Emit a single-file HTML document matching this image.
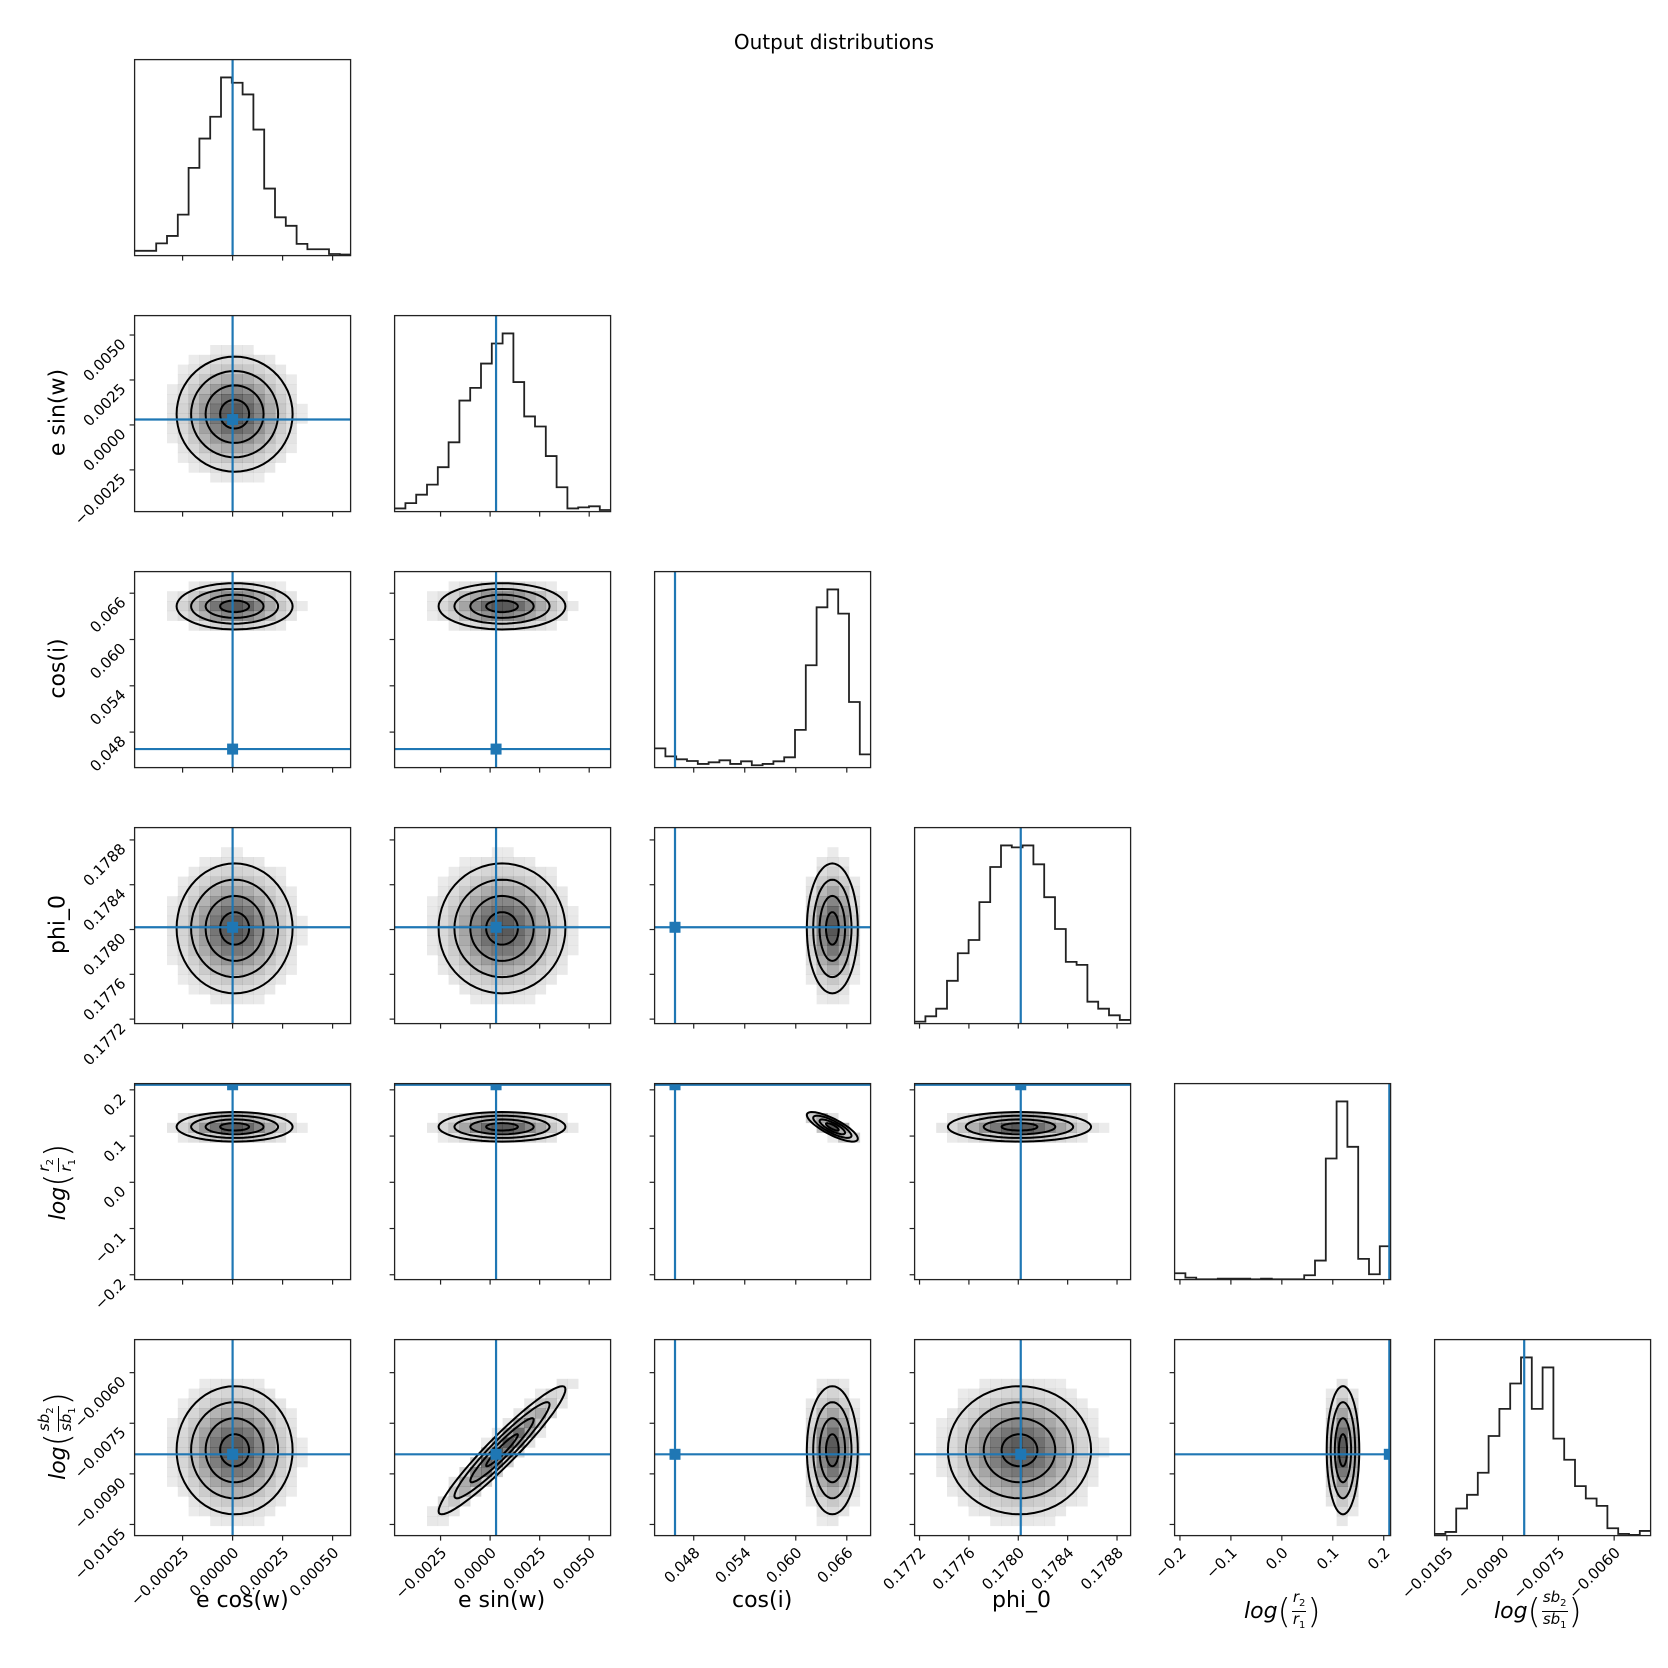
<!DOCTYPE html>
<html><head><meta charset="utf-8">
<style>
html,body{margin:0;padding:0;background:#fff;}
#wrap{position:relative;width:1668px;height:1668px;overflow:hidden;font-family:"DejaVu Sans","Liberation Sans",sans-serif;}
.lbl{position:absolute;font-size:22px;color:#000;white-space:nowrap;display:flex;align-items:center;}
.fr{display:inline-flex;flex-direction:column;align-items:center;font-size:15px;line-height:15px;margin:0 1px;}
.fr .n{border-bottom:1px solid #000;padding:0 1px;}
.par{font-size:34px;font-style:normal;font-weight:100;line-height:34px;}
</style></head>
<body>
<div id="wrap">
<svg id="svg" width="1668" height="1668" xmlns="http://www.w3.org/2000/svg">
<text x="834" y="49" text-anchor="middle" font-size="20" font-family="DejaVu Sans, sans-serif">Output distributions</text>
</svg>
<div class="lbl" style="left:196px;top:1588px;">e cos(w)</div>
<div class="lbl" style="left:458px;top:1588px;">e sin(w)</div>
<div class="lbl" style="left:732px;top:1588px;">cos(i)</div>
<div class="lbl" style="left:992px;top:1588px;">phi_0</div>
<div class="lbl" style="left:1244px;top:1590px;"><i>log</i><span class="par">(</span><span class="fr"><span class="n"><i>r</i><sub style="font-size:10px">2</sub></span><span><i>r</i><sub style="font-size:10px">1</sub></span></span><span class="par">)</span></div>
<div class="lbl" style="left:1494px;top:1590px;"><i>log</i><span class="par">(</span><span class="fr"><span class="n"><i>sb</i><sub style="font-size:10px">2</sub></span><span><i>sb</i><sub style="font-size:10px">1</sub></span></span><span class="par">)</span></div>
<div class="lbl" style="left:8px;top:400px;width:100px;justify-content:center;transform:rotate(-90deg);">e sin(w)</div>
<div class="lbl" style="left:8px;top:656px;width:100px;justify-content:center;transform:rotate(-90deg);">cos(i)</div>
<div class="lbl" style="left:8px;top:912px;width:100px;justify-content:center;transform:rotate(-90deg);">phi_0</div>
<div class="lbl" style="left:-12px;top:1158px;width:140px;height:48px;justify-content:center;transform:rotate(-90deg);"><i>log</i><span class="par">(</span><span class="fr"><span class="n"><i>r</i><sub style="font-size:10px">2</sub></span><span><i>r</i><sub style="font-size:10px">1</sub></span></span><span class="par">)</span></div>
<div class="lbl" style="left:-12px;top:1412px;width:140px;height:48px;justify-content:center;transform:rotate(-90deg);"><i>log</i><span class="par">(</span><span class="fr"><span class="n"><i>sb</i><sub style="font-size:10px">2</sub></span><span><i>sb</i><sub style="font-size:10px">1</sub></span></span><span class="par">)</span></div>
</div>
<script>
const paramNames = ["ecosw","esinw","cosi","phi0","logr","logsb"];
const lo = [-0.00049, -0.00482, 0.0434, 0.17716, -0.2105, -0.01083];
const hi = [0.00059, 0.00608, 0.0688, 0.17891, 0.2135, -0.00502];
const truth = [0.0, 0.0003, 0.0458, 0.17802, 0.211, -0.00842];
const means = [0.00001, 0.0006, 0.0643, 0.17801, 0.12, -0.0083];
const sds = [0.000145, 0.0016, 0.0015, 0.00029, 0.016, 0.00095];
const hist0 = [9,9,23,37,77,165,220,261,335,325,303,237,126,72,56,22,12,12,3,2];
const hist1 = [6,16,32,51,84,131,210,234,280,318,337,245,180,161,105,46,6,8,10,3];
const hist2 = [58,34,25,20,11,16,22,11,19,7,11,19,31,114,309,484,538,465,198,40];
const hist3 = [6,22,45,129,212,252,366,472,537,531,537,480,381,285,186,177,66,45,25,11];
const hist4 = [19,6,1,1,3,3,3,1,3,1,1,1,13,57,363,534,398,62,16,100];
const hist5 = [5,11,81,122,188,298,379,455,533,379,503,290,227,148,111,89,22,5,2,14];
const hists = [hist0,hist1,hist2,hist3,hist4,hist5];
const corrPairs = [[5,1,0.95],[4,2,-0.8]];
const contourLevels = [0.5,1,1.5,2];
const ticks0 = [-0.00025,0,0.00025,0.0005];
const tickLabels0 = ["\u22120.00025","0.00000","0.00025","0.00050"];
const ticks1 = [-0.0025,0,0.0025,0.005];
const tickLabels1 = ["\u22120.0025","0.0000","0.0025","0.0050"];
const ticks2 = [0.048,0.054,0.060,0.066];
const tickLabels2 = ["0.048","0.054","0.060","0.066"];
const ticks3 = [0.1772,0.1776,0.1780,0.1784,0.1788];
const tickLabels3 = ["0.1772","0.1776","0.1780","0.1784","0.1788"];
const ticks4 = [-0.2,-0.1,0,0.1,0.2];
const tickLabels4 = ["\u22120.2","\u22120.1","0.0","0.1","0.2"];
const ticks5 = [-0.0105,-0.009,-0.0075,-0.006];
const tickLabels5 = ["\u22120.0105","\u22120.0090","\u22120.0075","\u22120.0060"];
const ticks = [ticks0,ticks1,ticks2,ticks3,ticks4,ticks5];
const tickLabels = [tickLabels0,tickLabels1,tickLabels2,tickLabels3,tickLabels4,tickLabels5];

const L0=134.6, CW=260, PW=216, T0=59.6, RH=256, PH=196;
const NS="http://www.w3.org/2000/svg";
const svg=document.getElementById("svg");
const BLUE="#1f77b4";
function mk(tag, attrs, parent){const e=document.createElementNS(NS,tag);for(const k in attrs)e.setAttribute(k,attrs[k]);(parent||svg).appendChild(e);return e;}
function sx(j,v){return L0+CW*j+(v-lo[j])/(hi[j]-lo[j])*PW;}
function sy(i,v){return T0+RH*i+PH-(v-lo[i])/(hi[i]-lo[i])*PH;}
function corrOf(i,j){for(const c of corrPairs){if(c[0]===i&&c[1]===j)return c[2];}return 0;}

const defs=mk("defs",{});
for(let i=0;i<6;i++){
  for(let j=0;j<=i;j++){
    const px=L0+CW*j, py=T0+RH*i;
    const cp=mk("clipPath",{id:"c"+i+"_"+j},defs);
    mk("rect",{x:px,y:py,width:PW,height:PH},cp);
    const g=mk("g",{"clip-path":"url(#c"+i+"_"+j+")"});
    
    
    if(i===j){
      const h=hists[i], mx=Math.max(...h)*1.1, n=h.length;
      let d="";
      for(let b=0;b<n;b++){
        const x0=px+b*PW/n, x1=px+(b+1)*PW/n, y=py+PH-h[b]/mx*PH;
        d+=(b===0?"M"+x0+","+y:"L"+x0+","+y)+"L"+x1+","+y;
      }
      const hp=mk("path",{d:d,fill:"none",stroke:"#222",'stroke-width':1.8},g);
      
      
      const tl=mk("line",{x1:sx(j,truth[i]),x2:sx(j,truth[i]),y1:py,y2:py+PH,stroke:BLUE,'stroke-width':2.2},g);
      
      
    } else {
      const rho=corrOf(i,j), nb=20, cw=PW/nb, ch=PH/nb;
      for(let a=0;a<nb;a++)for(let b=0;b<nb;b++){
        const vx=lo[j]+(a+0.5)*(hi[j]-lo[j])/nb, vy=lo[i]+(b+0.5)*(hi[i]-lo[i])/nb;
        const zx=(vx-means[j])/sds[j], zy=(vy-means[i])/sds[i];
        const q=(zx*zx-2*rho*zx*zy+zy*zy)/(1-rho*rho);
        const dens=Math.exp(-0.5*q);
        if(dens<0.06)continue;
        const c=mk("rect",{x:px+a*cw,y:py+PH-(b+1)*ch,width:cw+0.3,height:ch+0.3,fill:"#000",'fill-opacity':(0.04+dens*0.62).toFixed(3)},g);
        
        
      }
      for(const k of contourLevels){
        let d="";
        for(let t=0;t<=60;t++){
          const th=t/60*2*Math.PI;
          const ux=Math.cos(th), uy=rho*Math.cos(th)+Math.sqrt(1-rho*rho)*Math.sin(th);
          const X=sx(j,means[j]+k*sds[j]*ux), Y=sy(i,means[i]+k*sds[i]*uy);
          d+=(t===0?"M":"L")+X.toFixed(1)+","+Y.toFixed(1);
        }
        const cpth=mk("path",{d:d+"Z",fill:"none",stroke:"#000",'stroke-width':2},g);
        
        
      }
      const vl=mk("line",{x1:sx(j,truth[j]),x2:sx(j,truth[j]),y1:py,y2:py+PH,stroke:BLUE,'stroke-width':2.2},g);
      
      
      const hl=mk("line",{x1:px,x2:px+PW,y1:sy(i,truth[i]),y2:sy(i,truth[i]),stroke:BLUE,'stroke-width':2.2},g);
      
      
      const mkr=mk("rect",{x:sx(j,truth[j])-5.5,y:sy(i,truth[i])-5.5,width:11,height:11,fill:BLUE},g);
      
      
    }
    const fr=mk("rect",{x:px,y:py,width:PW,height:PH,fill:"none",stroke:"#222",'stroke-width':1.3});
    
    
    ticks[j].forEach((tv,k)=>{
      const X=sx(j,tv);
      const tk=mk("line",{x1:X,x2:X,y1:py+PH,y2:py+PH+5,stroke:"#222",'stroke-width':1.2});
      
      
      if(i===5){
        const tx=mk("text",{x:X+7,y:py+PH+18,'text-anchor':'end','font-size':15,'font-family':'DejaVu Sans, sans-serif',transform:"rotate(-45 "+(X+7)+" "+(py+PH+18)+")"});
        tx.textContent=tickLabels[j][k];
        
        
      }
    });
    if(i!==j){
      ticks[i].forEach((tv,k)=>{
        const Y=sy(i,tv);
        const tk=mk("line",{x1:px-5,x2:px,y1:Y,y2:Y,stroke:"#222",'stroke-width':1.2});
        
        
        if(j===0){
          const tx=mk("text",{x:px-8,y:Y+10,'text-anchor':'end','font-size':15,'font-family':'DejaVu Sans, sans-serif',transform:"rotate(-45 "+(px-8)+" "+(Y+10)+")"});
          tx.textContent=tickLabels[i][k];
          
          
        }
      });
    }
  }
}
</script>
</body></html>
